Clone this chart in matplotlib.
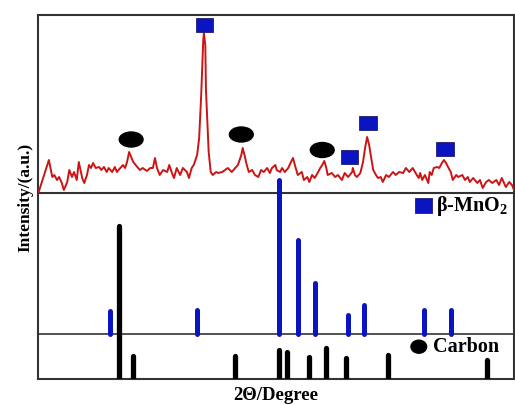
import matplotlib
matplotlib.use("Agg")
import matplotlib.pyplot as plt
from matplotlib.patches import Ellipse, Rectangle

# measured XRD pattern (2theta in degrees, intensity in a.u.)
two_theta = [10.1, 11.6, 12.1, 12.4, 12.8, 13.1, 13.5, 13.8, 14.3, 14.6, 15.0, 15.3, 15.7, 16.0,
             16.5, 16.8, 17.2, 17.5, 17.8, 18.1, 18.5, 19.0, 19.3, 19.7, 20.1, 20.4, 20.9, 21.3,
             21.6, 22.1, 22.5, 22.8, 23.1, 23.4, 23.7, 24.0, 24.6, 25.0, 25.4, 26.0, 26.5, 26.9,
             27.2, 27.5, 27.9, 28.4, 29.0, 29.3, 29.7, 30.0, 30.4, 30.9, 31.3, 31.9, 32.2, 32.6,
             32.9, 33.4, 33.7, 34.0, 34.3, 34.4, 34.6, 34.7, 35.0, 35.1, 35.4, 35.7, 36.2, 36.5,
             37.1, 37.5, 37.9, 38.5, 39.0, 39.4, 39.9, 40.1, 40.4, 40.7, 41.0, 41.5, 41.9, 42.4,
             42.8, 43.2, 43.7, 44.1, 44.4, 44.9, 45.1, 45.6, 45.9, 46.3, 46.8, 47.2, 47.5, 47.9,
             48.2, 48.8, 49.1, 49.6, 49.9, 50.3, 50.7, 51.2, 51.5, 51.8, 52.1, 52.4, 52.6, 53.2,
             53.7, 54.1, 54.7, 55.1, 55.6, 56.2, 56.3, 56.6, 56.9, 57.4, 57.8, 58.1, 58.4, 58.7,
             59.0, 59.3, 59.7, 60.0, 60.4, 60.7, 61.2, 61.6, 62.2, 62.6, 63.1, 63.7, 64.1, 64.6,
             65.1, 65.7, 66.0, 66.2, 66.5, 66.9, 67.4, 67.6, 67.9, 68.2, 68.7, 69.0, 69.4, 69.7,
             70.0, 70.3, 70.7, 71.0, 71.5, 71.8, 72.4, 72.8, 73.2, 73.5, 74.0, 74.6, 75.0, 75.4,
             75.9, 76.3, 76.8, 77.4, 77.8, 78.2, 78.8, 79.3, 79.7, 80.0]
intensity = [1, 33, 16, 18, 13, 16, 10, 3, 11, 23, 16, 21, 13, 31,
             15, 10, 18, 28, 25, 30, 25, 26, 23, 26, 21, 25, 21, 26,
             21, 25, 28, 25, 31, 41, 36, 31, 26, 23, 25, 22, 25, 25,
             35, 25, 18, 23, 21, 28, 20, 15, 25, 18, 25, 21, 15, 25,
             28, 38, 55, 98, 153, 160, 148, 103, 58, 41, 21, 18, 21, 20,
             21, 23, 25, 21, 25, 28, 38, 45, 37, 28, 21, 23, 18, 16,
             23, 21, 25, 20, 25, 28, 23, 21, 25, 21, 25, 31, 35, 25,
             18, 21, 13, 16, 11, 18, 15, 21, 25, 28, 32, 25, 18, 20,
             16, 18, 13, 20, 16, 21, 25, 18, 16, 20, 31, 45, 56, 48,
             35, 23, 18, 15, 16, 11, 18, 16, 21, 18, 21, 20, 25, 21,
             25, 18, 15, 20, 13, 18, 10, 21, 18, 25, 26, 25, 30, 33,
             30, 26, 21, 13, 18, 16, 18, 13, 16, 11, 15, 10, 13, 5,
             11, 13, 10, 13, 8, 15, 6, 11, 8, 3]

# reference lines
mno2_pos = [20.6, 33.4, 45.5, 48.2, 50.8, 55.6, 57.9, 66.7, 70.7]
mno2_int = [26, 27, 157, 97, 54, 22, 32, 27, 27]
carbon_pos = [21.9, 24.0, 39.0, 45.4, 46.6, 49.9, 52.3, 55.3, 61.5, 76.1]
carbon_int = [156, 26, 26, 32, 30, 25, 34, 24, 27, 22]

# peak assignment markers above the measured pattern
carbon_mark_x = [23.7, 39.9, 51.8]
carbon_mark_y = [53.5, 58.5, 43]
mno2_mark_x = [34.5, 55.8, 58.5, 69.9]
mno2_mark_y = [168, 36, 70, 44.3]

red = "#cc1414"
blue = "#0a14c0"
frame = "#333333"
serif = ["Liberation Serif", "DejaVu Serif"]

plt.rcParams["mathtext.fontset"] = "custom"
plt.rcParams["mathtext.rm"] = "Liberation Serif:bold"
plt.rcParams["mathtext.default"] = "rm"

fig = plt.figure(figsize=(5.15, 4.05), dpi=100)
ax = fig.add_axes([38 / 515, 26 / 405, 476 / 515, 364 / 405])

pattern_base = 186   # bottom of the measured pattern panel
mno2_base = 45       # bottom of the MnO2 panel

ax.axhline(pattern_base, color=frame, lw=1.5, zorder=1)
ax.axhline(mno2_base, color=frame, lw=1.2, zorder=1)

ax.plot(two_theta, [v + pattern_base for v in intensity], color=red, lw=1.4, zorder=4)

# stick patterns with rounded tops
r = 2.5
lc = ax.vlines(mno2_pos, mno2_base, [h + mno2_base - r for h in mno2_int], color=blue, lw=3.6, zorder=3)
lc.set_capstyle("round")
lc = ax.vlines(carbon_pos, -5, [h - r for h in carbon_int], color="black", lw=3.8, zorder=3)
lc.set_capstyle("round")

for x, y in zip(carbon_mark_x, carbon_mark_y):
    ax.add_patch(Ellipse((x, y + pattern_base), 3.5, 15, color="black", zorder=5))
for x, y in zip(mno2_mark_x, mno2_mark_y):
    ax.add_patch(Rectangle((x - 1.3, y + pattern_base - 7), 2.6, 14, facecolor=blue,
                           edgecolor="#1c1c70", lw=0.6, zorder=5))

# panel legends
ax.add_patch(Rectangle((65.5, 166.3), 2.45, 14.7, facecolor=blue, edgecolor="#1c1c70", lw=0.6, zorder=5))
ax.text(68.6, 173, "β-MnO$_2$", fontsize=14.5, fontweight="bold", family=serif, va="center", ha="left")
ax.add_patch(Ellipse((66.0, 32.3), 2.3, 13, color="black", zorder=5))
ax.text(68.1, 32.3, "Carbon", fontsize=14.5, fontweight="bold", family=serif, va="center", ha="left")

ax.set_xlim(10, 80)
ax.set_ylim(0, 364)
ax.set_xticks([])
ax.set_yticks([])
for s in ax.spines.values():
    s.set_color(frame)
    s.set_linewidth(1.5)

ax.set_xlabel("2Θ/Degree", fontsize=13.5, fontweight="bold", family=serif, labelpad=6)
ax.set_ylabel("Intensity/(a.u.)", fontsize=12.5, fontweight="bold", family=serif, labelpad=3)

fig.savefig("out.png", dpi=100)
